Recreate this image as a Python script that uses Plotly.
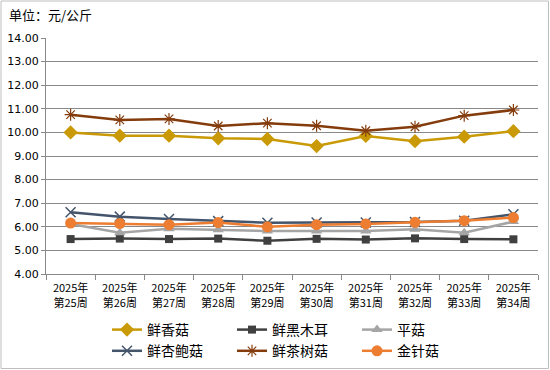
import plotly.graph_objects as go

weeks = ["2025年<br>第25周", "2025年<br>第26周", "2025年<br>第27周", "2025年<br>第28周", "2025年<br>第29周",
         "2025年<br>第30周", "2025年<br>第31周", "2025年<br>第32周", "2025年<br>第33周", "2025年<br>第34周"]

xianggu = [10.00, 9.86, 9.86, 9.75, 9.72, 9.42, 9.85, 9.63, 9.82, 10.05]
heimuer = [5.48, 5.50, 5.48, 5.50, 5.41, 5.49, 5.46, 5.51, 5.48, 5.47]
pinggu = [6.12, 5.75, 5.92, 5.87, 5.82, 5.82, 5.82, 5.90, 5.75, 6.22]
xingbaogu = [6.62, 6.43, 6.33, 6.24, 6.17, 6.18, 6.18, 6.20, 6.26, 6.53]
chashugu = [10.75, 10.53, 10.57, 10.27, 10.39, 10.28, 10.07, 10.24, 10.71, 10.95]
jinzhengu = [6.16, 6.14, 6.09, 6.18, 6.00, 6.09, 6.12, 6.19, 6.26, 6.39]

yticks = [4, 5, 6, 7, 8, 9, 10, 11, 12, 13, 14]

series = [
    ("鲜香菇", xianggu, "#C99A06", "diamond", 11, None),
    ("鲜黑木耳", heimuer, "#404040", "square", 8, None),
    ("平菇", pinggu, "#A5A5A5", "triangle-up", 10, None),
    ("鲜杏鲍菇", xingbaogu, "#44546A", "x-thin-open", 10, 1.5),
    ("鲜茶树菇", chashugu, "#843C0C", "asterisk-open", 10, 1.2),
    ("金针菇", jinzhengu, "#ED7D31", "circle", 11, None),
]

fig = go.Figure()
for name, vals, color, sym, size, lw in series:
    marker = dict(symbol=sym, size=size, color=color)
    if lw:
        marker["line"] = dict(color=color, width=lw)
    fig.add_trace(go.Scatter(x=weeks, y=vals, name=name, mode="lines+markers",
                             line=dict(color=color, width=2.5), marker=marker))

font_cjk = "Noto Sans CJK SC, DejaVu Sans, sans-serif"

fig.update_layout(
    width=550, height=370,
    margin=dict(l=46, r=12, t=38, b=96),
    paper_bgcolor="white", plot_bgcolor="white",
    font=dict(family=font_cjk, size=11, color="black"),
    title=dict(text="单位：元/公斤", x=9/550, xanchor="left", xref="container",
               y=1-15/370, yanchor="middle", yref="container",
               font=dict(size=13, family=font_cjk, color="black")),
    xaxis=dict(type="category", showline=True, linecolor="#898989", linewidth=1,
               ticks="outside", tickson="boundaries", ticklen=5, tickcolor="#898989",
               showgrid=False, tickfont=dict(size=11), range=[-0.5, 9.5], automargin=False,
               ticklabelstandoff=4),
    yaxis=dict(range=[4, 14], tickvals=yticks, tickformat=".2f", showline=True,
               linecolor="#898989", linewidth=1, ticks="outside", ticklen=4,
               tickcolor="#898989", showgrid=True, gridcolor="#898989", gridwidth=1,
               zeroline=False, automargin=False,
               tickfont=dict(size=11, family="DejaVu Sans, sans-serif")),
    legend=dict(orientation="h", xref="container", yref="container",
                x=107/550, xanchor="left", y=1-314/370, yanchor="top",
                entrywidth=80, entrywidthmode="pixels",
                font=dict(size=14, family=font_cjk), tracegroupgap=0,
                bgcolor="rgba(0,0,0,0)"),
    showlegend=True,
    shapes=[dict(type="rect", xref="paper", yref="paper",
                 x0=(1-46)/492, x1=(548.5-46)/492, y0=(274-368.5)/236, y1=(274-1)/236,
                 line=dict(color="#BFBFBF", width=1))],
)

fig.write_html("out.html", config={"displayModeBar": False},
               post_script="document.body.style.margin='0';")
